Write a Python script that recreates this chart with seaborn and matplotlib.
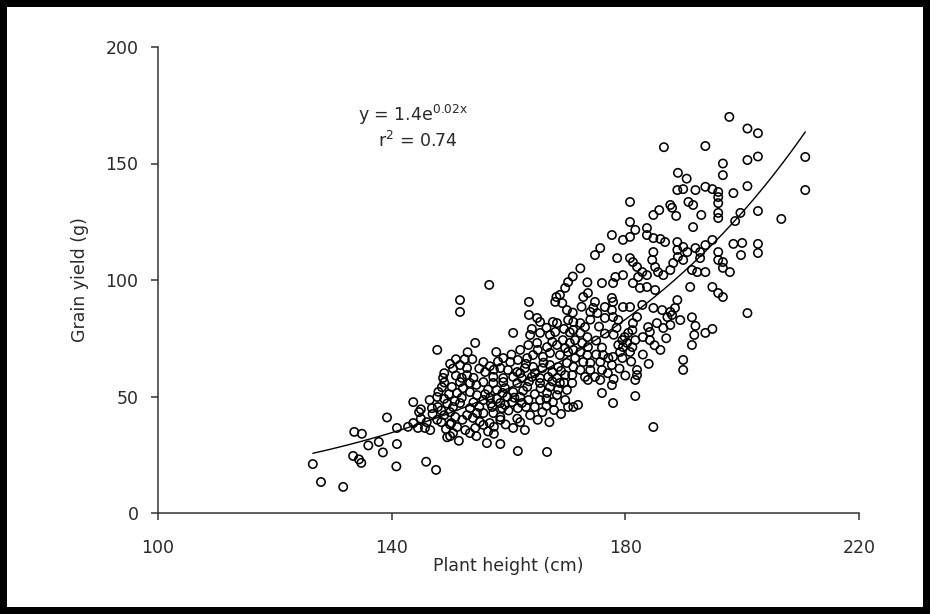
import numpy as np
import pandas as pd
import matplotlib
matplotlib.use("Agg")
import matplotlib.pyplot as plt
import seaborn as sns

# ---- data (plant height cm, grain yield g) ----
plant_height = [
    126.5, 127.9, 131.7, 133.6, 134.9, 133.4, 134.4, 134.8, 136.0, 137.8, 138.5, 139.2, 140.9, 140.9, 140.8,
    145.9, 147.6, 143.7, 144.7, 142.8, 143.7, 144.5, 145.7, 146.6, 146.9, 147.9, 147.8, 148.6, 147.8, 148.5,
    147.8, 149.0, 149.5, 149.8, 149.3, 150.0, 148.0, 149.0, 148.5, 146.0, 145.0, 147.0, 145.0, 149.0, 150.5,
    151.0, 152.5, 150.0, 148.8, 150.0, 151.5, 149.5,
    156.3, 158.6, 161.6, 166.6, 160.8, 162.8, 158.6, 156.8, 163.7, 165.8, 167.8, 150.0, 150.9, 152.1,
    150.2, 151.2, 152.6, 150.5, 153.4, 152.9, 153.9, 155.1, 154.3, 155.7, 157.5, 154.6, 153.4, 151.7,
    150.5, 155.7, 157.4, 158.6, 157.2, 158.9, 158.6, 156.8, 155.7, 154.6, 153.4, 152.2, 151.2, 150.3,
    158.0, 159.4, 160.8, 162.0, 163.4, 164.5, 162.3, 161.6, 160.6, 159.8, 159.4, 165.4, 167.1, 168.8,
    170.0, 168.3, 166.6, 165.4, 167.6, 169.7, 166.5, 169.0, 170.2, 155.7, 157.4, 159.1, 161.5, 163.2,
    153.4, 151.7,
    156.7, 151.7, 151.7, 163.5, 168.2, 168.8, 169.7, 169.2, 168.0, 170.2, 170.0, 170.2, 163.5, 164.9,
    165.4, 167.6, 168.3, 160.8, 154.3, 157.9, 155.7, 151.7, 152.9, 152.9, 156.0, 163.7, 165.4, 167.1,
    168.0, 169.3, 163.4, 164.9, 166.6, 168.3, 169.7, 159.1, 160.3, 161.6, 163.2, 164.2, 165.9, 167.1,
    168.8, 170.2, 158.6, 159.9, 161.5, 162.8, 164.2, 165.8, 167.1, 168.5, 170.0, 157.4, 159.1, 160.8,
    162.3, 164.0, 165.4, 166.8, 168.3, 169.7,
    154.0, 155.0, 153.8, 156.8, 158.2, 154.5, 156.5, 152.0, 157.5, 153.0, 151.0, 172.3, 171.0, 173.5,
    170.9, 171.1, 171.9, 173.6, 175.7, 176.0, 177.7, 177.9, 181.7, 181.7, 184.8,
    176.0, 177.9, 181.3, 182.5, 183.7, 185.1, 172.8, 173.6, 177.7, 177.9, 174.8, 174.5, 174.0, 175.2,
    176.5, 177.7, 179.6, 180.8, 182.9, 184.8, 186.3, 187.7, 188.5, 188.9, 188.0, 187.2, 177.9, 178.8,
    176.5, 183.9, 185.4, 186.5, 184.2, 187.7, 189.4, 182.0, 181.3, 181.2, 180.5, 179.9, 179.5, 180.3,
    181.7, 181.2, 179.6, 184.2, 178.8, 179.1, 179.5, 180.8, 177.9, 177.7, 189.9, 189.9, 182.0, 176.0,
    174.0, 174.8, 171.1, 172.3, 173.1, 171.1, 172.3, 173.5, 171.4, 172.6, 173.6, 171.1, 172.3, 173.5,
    171.4, 172.8, 174.0, 171.1, 172.3, 170.9, 173.1, 176.2, 177.1, 175.7, 182.0,
    180.8, 188.9, 189.9, 187.7, 188.0, 188.7, 184.8, 185.8, 190.8, 180.8, 181.7, 183.7, 177.7, 179.6,
    180.8, 175.7, 174.8, 178.6, 180.8, 181.3, 183.7, 184.8, 186.0, 186.8, 188.9, 189.9, 188.9, 190.6,
    189.0, 189.9, 188.2, 184.8, 184.6, 185.1, 185.6, 186.5, 187.7, 182.0, 182.9, 183.7, 182.2, 179.6,
    178.3, 186.6, 189.0, 190.5,
    194.9, 195.9, 196.7, 200.9, 191.1, 191.4, 192.0, 191.8, 191.4, 193.7, 194.9, 210.8, 200.9, 198.5,
    202.7, 206.7, 199.7, 198.8, 198.5, 200.0, 199.8, 202.7, 202.7, 192.0, 193.7, 194.9, 195.9, 195.9,
    195.9, 195.9, 195.9, 193.0, 191.6, 191.6, 194.9, 193.7, 192.8, 192.8, 192.0, 191.4, 192.3, 193.7,
    195.9, 195.9, 196.7, 196.7, 197.9, 197.8, 200.9, 202.7, 193.7, 202.7, 200.9, 196.7, 196.7, 210.8,
    155.0, 156.0, 157.0, 158.0, 159.0, 160.0, 161.0, 162.5, 163.5, 164.5, 165.5, 166.5, 167.5, 168.5,
    169.5, 162.0, 163.0, 164.5, 166.0, 167.5, 169.0, 160.5, 162.0, 165.0, 167.5, 170.5, 170.5, 166.5,
    169.5, 164.0, 171.0, 172.5, 174.0, 175.5, 176.5, 175.0, 176.0, 178.0, 178.5, 177.0, 179.0, 181.0,
    183.0, 184.0, 186.0, 187.0, 185.0, 183.0, 175.0, 178.0, 180.0, 157.5, 159.5, 161.5, 154.0, 152.0,
    150.8, 149.0, 146.5, 163.0, 165.0, 167.0, 162.0, 154.5, 156.5,
]
grain_yield = [
    21.0, 13.3, 11.2, 34.8, 34.0, 24.5, 23.0, 21.5, 29.0, 30.5, 26.0, 41.0, 36.5, 29.6, 20.0,
    22.0, 18.5, 47.6, 43.3, 37.0, 38.6, 36.5, 36.5, 35.6, 45.0, 45.5, 49.8, 54.0, 40.0, 39.0,
    70.0, 42.0, 47.0, 51.0, 36.0, 38.0, 52.0, 56.0, 44.0, 39.0, 40.5, 42.5, 44.5, 60.0, 62.0,
    66.0, 66.0, 64.0, 58.0, 33.0, 31.0, 32.5,
    30.0, 29.6, 26.6, 26.2, 36.5, 35.6, 40.0, 38.6, 42.0, 43.3, 44.2, 43.3, 41.2, 40.0,
    38.6, 36.9, 35.6, 34.3, 34.3, 42.0, 40.8, 39.1, 36.5, 37.8, 37.0, 42.9, 45.0, 47.2,
    45.5, 42.9, 42.9, 41.2, 45.5, 45.0, 47.2, 49.4, 48.5, 50.6, 51.9, 53.6, 51.5, 54.1,
    52.8, 53.6, 51.9, 49.8, 48.5, 45.5, 47.2, 45.0, 47.6, 49.8, 46.4, 55.8, 54.1, 55.8,
    52.8, 50.6, 51.5, 48.5, 47.6, 48.5, 46.0, 42.5, 45.5, 56.2, 55.8, 56.2, 55.8, 54.1,
    55.8, 56.2,
    97.9, 91.4, 86.3, 90.6, 92.7, 93.6, 96.6, 90.1, 90.6, 99.1, 87.1, 82.8, 85.0, 83.7,
    82.0, 82.0, 81.5, 77.3, 73.0, 69.1, 64.8, 63.5, 62.2, 59.2, 60.5, 76.4, 77.3, 76.4,
    77.7, 74.2, 72.1, 73.0, 71.2, 72.1, 70.8, 66.5, 64.8, 65.7, 66.5, 67.8, 67.0, 68.7,
    67.8, 69.1, 62.2, 61.4, 60.5, 62.2, 62.7, 62.2, 63.5, 62.7, 64.4, 58.4, 57.9, 58.4,
    57.9, 58.4, 57.9, 58.4, 57.9, 59.2,
    58.0, 62.0, 66.0, 63.0, 65.0, 55.0, 53.0, 58.0, 61.5, 69.0, 59.0, 105.0, 101.5, 99.0,
    55.8, 45.5, 46.4, 57.1, 57.1, 51.5, 54.9, 47.2, 57.1, 50.2, 36.9,
    98.7, 98.7, 98.7, 96.6, 97.0, 95.7, 92.7, 94.4, 92.3, 90.6, 90.6, 88.0, 86.3, 85.8,
    88.4, 87.1, 88.4, 88.4, 89.3, 88.0, 87.1, 86.3, 88.0, 91.4, 85.0, 84.1, 84.1, 82.8,
    83.7, 79.8, 81.5, 79.4, 77.7, 80.7, 82.8, 84.1, 81.5, 78.5, 77.3, 75.5, 74.2, 73.0,
    74.2, 71.2, 71.2, 74.2, 72.1, 69.1, 66.5, 69.1, 67.0, 63.5, 65.7, 61.4, 61.4, 61.4,
    61.4, 58.4, 82.0, 81.5, 79.8, 78.5, 77.3, 75.5, 74.2, 73.0, 71.2, 70.0, 69.1, 67.8,
    66.5, 64.8, 64.4, 62.7, 61.4, 59.2, 58.4, 67.8, 66.5, 64.8, 59.2,
    133.5, 138.6, 139.0, 132.2, 131.0, 127.5, 127.9, 130.0, 133.5, 124.9, 121.5, 122.3, 119.3, 117.2,
    118.5, 113.7, 110.7, 109.4, 109.4, 107.7, 119.3, 118.0, 117.6, 116.3, 116.3, 114.2, 112.9, 112.0,
    109.9, 108.6, 107.3, 112.0, 108.6, 105.6, 103.4, 102.1, 104.3, 105.6, 103.4, 102.1, 101.3, 102.1,
    101.3, 157.0, 146.0, 143.5,
    97.0, 94.4, 92.7, 85.8, 97.0, 84.0, 80.3, 76.4, 72.1, 77.3, 79.0, 138.6, 140.3, 137.3,
    129.6, 126.2, 128.8, 125.3, 115.5, 115.9, 110.7, 115.5, 111.6, 138.6, 140.0, 139.0, 137.8, 135.6,
    133.0, 128.8, 126.6, 127.9, 132.2, 122.7, 117.2, 115.0, 112.0, 109.4, 113.7, 104.3, 103.4, 103.4,
    112.0, 108.6, 107.7, 105.2, 103.4, 170.0, 165.0, 163.0, 157.5, 153.0, 151.5, 150.0, 145.0, 152.8,
    45.5, 51.0, 47.0, 49.0, 51.5, 44.0, 49.5, 52.5, 56.5, 51.0, 53.5, 49.0, 56.5, 53.0,
    56.0, 60.0, 64.0, 60.0, 64.5, 60.5, 61.0, 68.0, 70.0, 70.0, 73.5, 73.0, 77.5, 79.5,
    79.0, 79.0, 86.0, 88.5, 83.0, 80.0, 77.0, 74.0, 71.0, 76.5, 79.5, 60.0, 62.0, 65.0,
    68.0, 64.0, 70.0, 75.0, 72.0, 75.5, 68.0, 57.5, 59.0, 34.0, 38.0, 40.5, 47.5, 49.5,
    48.0, 49.0, 48.5, 45.5, 40.0, 39.0, 39.0, 33.0, 35.0,
]

x_ticks = [100, 140, 180, 220]
y_ticks = [0, 50, 100, 150, 200]
equation_text = r"y = 1.4e$^{0.02x}$"
r2_text = r"r$^{2}$ = 0.74"

df = pd.DataFrame({"Plant height (cm)": plant_height, "Grain yield (g)": grain_yield})

# exponential trend fitted to the data
b, ln_a = np.polyfit(df["Plant height (cm)"], np.log(df["Grain yield (g)"]), 1)
trend_x = np.linspace(df["Plant height (cm)"].min(), df["Plant height (cm)"].max(), 200)
trend = pd.DataFrame({"x": trend_x, "y": np.exp(ln_a) * np.exp(b * trend_x)})

sns.set_style("ticks")
plt.rcParams["font.family"] = ["DejaVu Sans"]
plt.rcParams["mathtext.default"] = "regular"
text_color = "#2a2a2a"

fig = plt.figure(figsize=(9.3, 6.14), dpi=100, facecolor="white", edgecolor="black", linewidth=10)
ax = fig.add_axes([158 / 930, 1 - 513 / 614, (859 - 158) / 930, (513 - 47) / 614])

sns.scatterplot(data=df, x="Plant height (cm)", y="Grain yield (g)", ax=ax,
                marker="o", s=36, facecolor="none", edgecolor="black", linewidth=1.15)
sns.lineplot(data=trend, x="x", y="y", ax=ax, color="black", linewidth=1.0, sort=True)

ax.set_xlim(100, 220)
ax.set_ylim(0, 200)
ax.set_xticks(x_ticks)
ax.set_yticks(y_ticks)
ax.tick_params(direction="out", length=5, width=1.1, colors="#333333", labelcolor=text_color,
               labelsize=12.5)
ax.tick_params(axis="x", pad=14)
ax.tick_params(axis="y", pad=9)
for side in ["top", "right"]:
    ax.spines[side].set_visible(False)
for side in ["left", "bottom"]:
    ax.spines[side].set_color("#333333")
    ax.spines[side].set_linewidth(1.1)

ax.set_xlabel("Plant height (cm)", fontsize=12.5, color=text_color, labelpad=0)
ax.set_ylabel("Grain yield (g)", fontsize=12.5, color=text_color, labelpad=12)

ax.text(134.2, 170.8, equation_text, fontsize=12.5, color=text_color, va="center", ha="left")
ax.text(137.6, 159.7, r2_text, fontsize=12.5, color=text_color, va="center", ha="left")

fig.savefig("out.png", dpi=100, facecolor="white", edgecolor="black")
